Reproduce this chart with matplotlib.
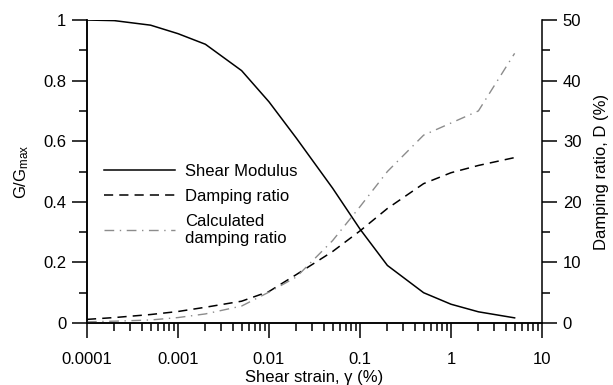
import matplotlib.pyplot as plt
from matplotlib.ticker import LogLocator, NullFormatter, MultipleLocator

plt.rcParams['font.family'] = ['Liberation Sans', 'DejaVu Sans']
plt.rcParams['font.size'] = 12
plt.rcParams['mathtext.default'] = 'regular'

# shear strain (%) and measured curves
strain = [0.0001, 0.0002, 0.0005, 0.001, 0.002, 0.005, 0.01, 0.02, 0.05,
          0.1, 0.2, 0.5, 1, 2, 5]
g_ratio = [1.0, 0.998, 0.983, 0.955, 0.92, 0.833, 0.73, 0.61, 0.445,
           0.31, 0.19, 0.10, 0.062, 0.037, 0.017]
damping = [0.6, 0.9, 1.4, 1.9, 2.6, 3.6, 5.2, 8.0, 11.8,
           15.2, 18.9, 23.0, 24.8, 26.0, 27.3]
damping_calc = [0.2, 0.3, 0.5, 0.9, 1.5, 2.8, 5.1, 7.6, 13.6,
                19.2, 25.0, 31.0, 33.0, 35.0, 44.5]

xticks = [0.0001, 0.001, 0.01, 0.1, 1, 10]
xlabels = ["0.0001", "0.001", "0.01", "0.1", "1", "10"]

fig = plt.figure(figsize=(6.13, 3.85), dpi=100)
ax = fig.add_axes([0.1419, 0.161, 0.7423, 0.787])
ax2 = ax.twinx()

l1, = ax.plot(strain, g_ratio, color="black", lw=1.1, label="Shear Modulus")
l2, = ax2.plot(strain, damping, color="black", lw=1.1, ls=(0, (6, 4)),
               label="Damping ratio")
l3, = ax2.plot(strain, damping_calc, color="#8c8c8c", lw=1.0,
               ls=(0, (7, 4, 1, 4)), label="Calculated\ndamping ratio")

ax.set_xscale("log")
ax.set_xlim(0.0001, 10)
ax.set_xticks(xticks, xlabels)
ax.xaxis.set_minor_locator(LogLocator(base=10, subs=range(2, 10)))
ax.xaxis.set_minor_formatter(NullFormatter())

ax.set_ylim(0, 1)
ax.set_yticks([0, 0.2, 0.4, 0.6, 0.8, 1], ["0", "0.2", "0.4", "0.6", "0.8", "1"])
ax.yaxis.set_minor_locator(MultipleLocator(0.1))
ax2.set_ylim(0, 50)
ax2.set_yticks([0, 10, 20, 30, 40, 50])
ax2.yaxis.set_minor_locator(MultipleLocator(5))

for a in (ax, ax2):
    a.spines["top"].set_visible(False)
    for s in a.spines.values():
        s.set_linewidth(1.1)
    a.tick_params(which="major", length=11, width=1.1, direction="out", pad=4)
    a.tick_params(which="minor", length=5.5, width=1.1, direction="out")
ax.spines["right"].set_visible(False)
ax.tick_params(axis="x", which="major", pad=10)

ax.set_xlabel("Shear strain, γ (%)", labelpad=2)
ax.set_ylabel("G/G$_{max}$", labelpad=9)
ax2.set_ylabel("Damping ratio, D (%)", labelpad=9)

ax2.legend(handles=[l1, l2, l3], loc="center left", frameon=False,
           bbox_to_anchor=(0.037, 0.39), borderpad=0, borderaxespad=0,
           handlelength=4.25, handletextpad=0.6, labelspacing=0.6)

fig.savefig("out.png", dpi=100)
